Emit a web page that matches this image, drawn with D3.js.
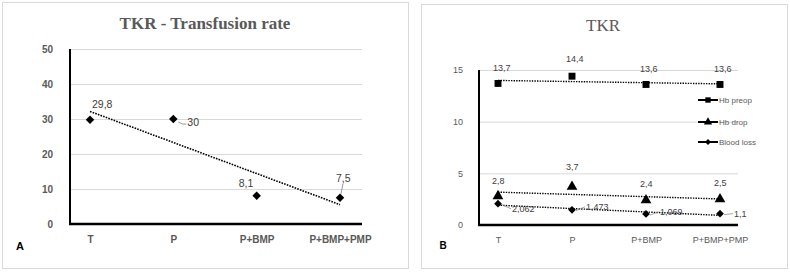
<!DOCTYPE html>
<html><head><meta charset="utf-8">
<script src="https://cdn.jsdelivr.net/npm/d3@7"></script>
<style>body{margin:0;background:#fff}svg{display:block}</style>
</head><body>
<svg id="c" width="790" height="272"></svg>
<script>
const categories = ["T", "P", "P+BMP", "P+BMP+PMP"];
const transfusionRate = [29.8, 30, 8.1, 7.5];
const transfusionLabels = ["29,8", "30", "8,1", "7,5"];
const yTicksA = [0, 10, 20, 30, 40, 50];

const seriesNames = ["Hb preop", "Hb drop", "Blood loss"];
const hbPreop = [13.7, 14.4, 13.6, 13.6];
const hbPreopLabels = ["13,7", "14,4", "13,6", "13,6"];
const hbDrop = [2.8, 3.7, 2.4, 2.5];
const hbDropLabels = ["2,8", "3,7", "2,4", "2,5"];
const bloodLoss = [2.062, 1.473, 1.069, 1.1];
const bloodLossLabels = ["2,062", "1,473", "1,069", "1,1"];
const yTicksB = [0, 5, 10, 15];

const svg = d3.select("#c");
const tickFont = "'Liberation Sans', Arial, sans-serif";
const gray = "#595959";

function trend(vals) {
  const n = vals.length, xs = vals.map((_, i) => i + 1);
  const mx = d3.mean(xs), my = d3.mean(vals);
  const sxy = d3.sum(xs, (x, i) => (x - mx) * (vals[i] - my));
  const sxx = d3.sum(xs, x => (x - mx) * (x - mx));
  const b = sxy / sxx, a = my - b * mx;
  return [a + b * 1, a + b * n];
}

// ---------- Panel A ----------
svg.append("rect").attr("x", 2.5).attr("y", 2.5).attr("width", 406).attr("height", 266)
  .attr("fill", "#fff").attr("stroke", "#d9d9d9");
const A = svg.append("g");
const xA = d3.scalePoint().domain(categories).range([90, 340]);
const yA = d3.scaleLinear().domain([0, 50]).range([224, 49]);
A.append("text").attr("x", 205).attr("y", 29).attr("text-anchor", "middle")
  .attr("font-family", "'Liberation Serif', 'DejaVu Serif', serif").attr("font-weight", "bold")
  .attr("font-size", 17).attr("fill", gray).text("TKR - Transfusion rate");
A.append("g").attr("transform", "translate(70,0)")
  .call(d3.axisLeft(yA).tickValues(yTicksA).tickSize(-292).tickPadding(17))
  .call(g => g.select(".domain").remove())
  .call(g => g.selectAll("line").attr("stroke", "#d9d9d9"))
  .call(g => g.selectAll("text").attr("font-family", tickFont).attr("font-weight", "bold")
    .attr("font-size", 10).attr("fill", gray));
A.append("line").attr("x1", 70).attr("x2", 70).attr("y1", 49).attr("y2", 225)
  .attr("stroke", "#000").attr("stroke-width", 2);
A.append("line").attr("x1", 69).attr("x2", 362).attr("y1", yA(0)).attr("y2", yA(0))
  .attr("stroke", "#000").attr("stroke-width", 2.5);
A.append("g").attr("transform", "translate(0,224)")
  .call(d3.axisBottom(xA).tickSize(0).tickPadding(12))
  .call(g => g.select(".domain").remove())
  .call(g => g.selectAll("text").attr("font-family", tickFont).attr("font-weight", "bold")
    .attr("font-size", 10).attr("fill", gray));
A.append("text").attr("x", 20).attr("y", 250).attr("text-anchor", "middle")
  .attr("font-family", tickFont).attr("font-weight", "bold").attr("font-size", 11).attr("fill", "#000").text("A");
const tA = trend(transfusionRate);
A.append("line").attr("x1", xA(categories[0])).attr("x2", xA(categories[3]))
  .attr("y1", yA(tA[0])).attr("y2", yA(tA[1]))
  .attr("stroke", "#000").attr("stroke-width", 1.6).attr("stroke-dasharray", "1.6,1.2");
A.selectAll(".ptA").data(transfusionRate).join("path")
  .attr("transform", (d, i) => `translate(${xA(categories[i])},${yA(d)}) rotate(45)`)
  .attr("d", d3.symbol().type(d3.symbolSquare).size(36)).attr("fill", "#000");
const labOffA = [[2, -12], [14, 7], [-18, -9], [-4, -16]];
A.selectAll(".lbA").data(transfusionLabels).join("text")
  .attr("x", (d, i) => xA(categories[i]) + labOffA[i][0])
  .attr("y", (d, i) => yA(transfusionRate[i]) + labOffA[i][1])
  .attr("font-family", tickFont).attr("font-size", 10.5).attr("fill", "#404040").text(d => d);
A.append("path").attr("d", `M${xA("P")+5},${yA(30)+3} L${xA("P")+9},${yA(30)+5} L${xA("P")+13},${yA(30)+5}`)
  .attr("fill", "none").attr("stroke", "#808080").attr("stroke-width", 0.8);
A.append("path").attr("d", `M${xA("P+BMP+PMP")+1},${yA(7.5)-4} L${xA("P+BMP+PMP")+3},${yA(7.5)-14}`)
  .attr("fill", "none").attr("stroke", "#808080").attr("stroke-width", 0.8);

// ---------- Panel B ----------
svg.append("rect").attr("x", 421.5).attr("y", 4.5).attr("width", 366).attr("height", 264)
  .attr("fill", "#fff").attr("stroke", "#d9d9d9");
const B = svg.append("g");
const xB = d3.scalePoint().domain(categories).range([498, 720]);
const yB = d3.scaleLinear().domain([0, 15]).range([225, 70]);
B.append("text").attr("x", 603).attr("y", 31).attr("text-anchor", "middle")
  .attr("font-family", "'Liberation Serif', 'DejaVu Serif', serif")
  .attr("font-size", 17).attr("fill", gray).text("TKR");
B.append("g").attr("transform", "translate(479,0)")
  .call(d3.axisLeft(yB).tickValues(yTicksB).tickSize(-259).tickPadding(16))
  .call(g => g.select(".domain").remove())
  .call(g => g.selectAll("line").attr("stroke", "#d9d9d9"))
  .call(g => g.selectAll("text").attr("font-family", tickFont)
    .attr("font-size", 9).attr("fill", gray));
B.append("line").attr("x1", 479).attr("x2", 479).attr("y1", 70).attr("y2", 226)
  .attr("stroke", "#000").attr("stroke-width", 2);
B.append("line").attr("x1", 478).attr("x2", 738).attr("y1", yB(0)).attr("y2", yB(0))
  .attr("stroke", "#000").attr("stroke-width", 2.5);
B.append("g").attr("transform", "translate(0,225)")
  .call(d3.axisBottom(xB).tickSize(0).tickPadding(12))
  .call(g => g.select(".domain").remove())
  .call(g => g.selectAll("text").attr("font-family", tickFont)
    .attr("font-size", 9).attr("fill", gray));
B.append("text").attr("x", 443).attr("y", 249).attr("text-anchor", "middle")
  .attr("font-family", tickFont).attr("font-weight", "bold").attr("font-size", 10).attr("fill", "#000").text("B");

const seriesB = [
  {vals: hbPreop, labels: hbPreopLabels, sym: d3.symbolSquare, size: 48, rot: 0},
  {vals: hbDrop, labels: hbDropLabels, sym: d3.symbolTriangle, size: 50, rot: 0},
  {vals: bloodLoss, labels: bloodLossLabels, sym: d3.symbolSquare, size: 30, rot: 45}
];
seriesB.forEach(s => {
  const t = trend(s.vals);
  B.append("line").attr("x1", xB(categories[0])).attr("x2", xB(categories[3]))
    .attr("y1", yB(t[0])).attr("y2", yB(t[1]))
    .attr("stroke", "#000").attr("stroke-width", 1.4).attr("stroke-dasharray", "1.4,1.2");
});
seriesB.forEach(s => {
  B.selectAll(null).data(s.vals).join("path")
    .attr("transform", (d, i) => `translate(${xB(categories[i])},${yB(d)}) rotate(${s.rot})`)
    .attr("d", d3.symbol().type(s.sym).size(s.size)).attr("fill", "#000");
});
const offPre = [[-5, -12], [-6, -14], [-6, -12], [-6, -12]];
B.selectAll(".lp").data(hbPreopLabels).join("text")
  .attr("x", (d, i) => xB(categories[i]) + offPre[i][0])
  .attr("y", (d, i) => yB(hbPreop[i]) + offPre[i][1])
  .attr("font-family", tickFont).attr("font-size", 9).attr("fill", "#404040").text(d => d);
const offDrop = [[-6, -12], [-6, -17], [-6, -13], [-6, -13]];
B.selectAll(".ld").data(hbDropLabels).join("text")
  .attr("x", (d, i) => xB(categories[i]) + offDrop[i][0])
  .attr("y", (d, i) => yB(hbDrop[i]) + offDrop[i][1])
  .attr("font-family", tickFont).attr("font-size", 9).attr("fill", "#404040").text(d => d);
const offBL = [[14, 8], [14, 0], [14, 1], [14, 3]];
B.selectAll(".lb").data(bloodLossLabels).join("text")
  .attr("x", (d, i) => xB(categories[i]) + offBL[i][0])
  .attr("y", (d, i) => yB(bloodLoss[i]) + offBL[i][1])
  .attr("font-family", tickFont).attr("font-size", 9).attr("fill", "#404040").text(d => d);
bloodLoss.forEach((v, i) => {
  const x = xB(categories[i]), y = yB(v);
  B.append("path").attr("d", `M${x+4},${y+1} L${x+13},${y + offBL[i][1] - 3}`)
    .attr("fill", "none").attr("stroke", "#808080").attr("stroke-width", 0.7);
});

// legend
const leg = B.append("g");
seriesB.forEach((s, i) => {
  const y = [100, 122, 142][i];
  leg.append("line").attr("x1", 698).attr("x2", 718).attr("y1", y).attr("y2", y)
    .attr("stroke", "#000").attr("stroke-width", 2);
  leg.append("path").attr("transform", `translate(708,${y}) rotate(${s.rot})`)
    .attr("d", d3.symbol().type(s.sym).size(s.size * 0.6)).attr("fill", "#000");
  leg.append("text").attr("x", 719).attr("y", y + 3).attr("font-family", tickFont)
    .attr("font-size", 8).attr("fill", gray).text(seriesNames[i]);
});
</script>
</body></html>
